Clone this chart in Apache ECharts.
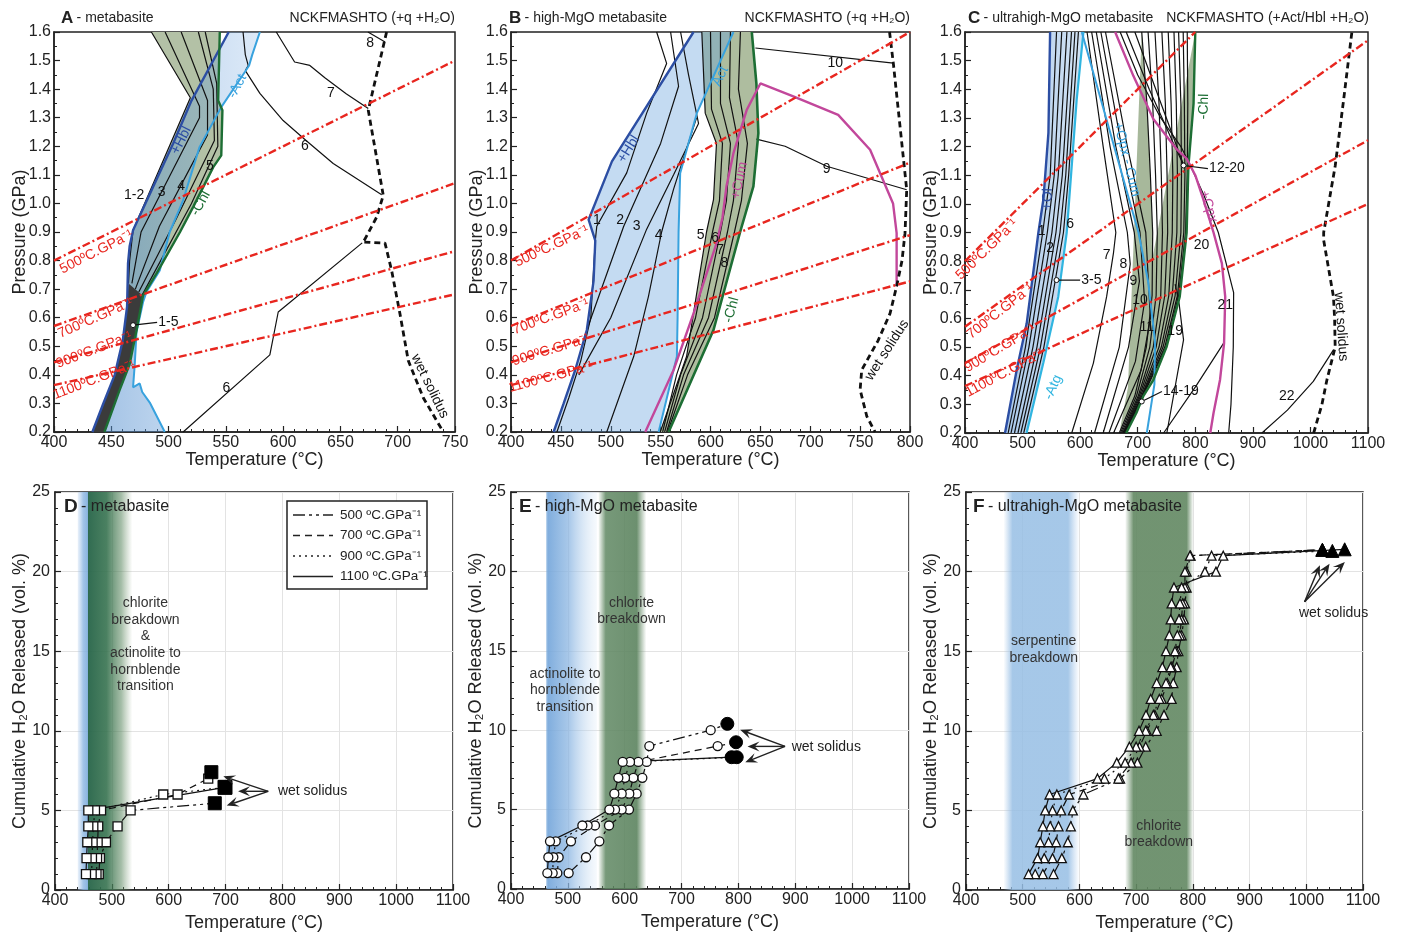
<!DOCTYPE html>
<html><head><meta charset="utf-8">
<script src="https://cdn.jsdelivr.net/npm/echarts@6/dist/echarts.min.js"></script>
<style>html,body{margin:0;padding:0;background:#fff}#c{width:1404px;height:935px}</style>
</head><body><div id="c"></div>
<script>
// ================= DATA =================
// Panel A (T °C, P GPa)
const A_geo500 = [[400,0.8],[750,1.5]];
const A_geo700 = [[400,0.571],[750,1.071]];
const A_geo900 = [[400,0.444],[750,0.833]];
const A_geo1100 = [[400,0.364],[750,0.682]];
const A_hbl = [[552.5,1.6],[520,1.36],[504,1.21],[469,0.906],[466,0.85],[464.6,0.79],[463.8,0.64],[460,0.52],[453,0.40],[442.8,0.297],[433.5,0.2]];
const A_act = [[579.7,1.6],[573,1.52],[570.3,1.483],[566.6,1.46],[546,1.337],[527,1.197],[512.7,1.011],[501,0.9],[492.3,0.765],[480.7,0.69],[477.7,0.654],[472,0.55],[470.5,0.438],[469,0.356],[474.8,0.37],[477,0.34],[483.6,0.303],[496.7,0.2]];
const A_chl = [[544.7,1.6],[543.3,1.36],[547,1.326],[546,1.168],[539,1.127],[521.4,0.987],[510,0.9],[489.4,0.754],[477.7,0.677],[472,0.555],[466,0.437],[457,0.344],[444,0.2]];
const A_chlLeft = [[485,1.6],[519,1.37],[469,0.906],[466,0.85],[464.6,0.79],[463.8,0.64],[460,0.52],[453,0.40],[442.8,0.297],[433.5,0.2]];
const A_band = [[465,0.72],[463.8,0.64],[460,0.52],[453,0.4],[442.8,0.297],[433.5,0.2],[444,0.2],[457,0.344],[466,0.437],[472,0.555],[477.7,0.677]];
const A_l12 = [[485,1.6],[519,1.37],[469,0.906],[466,0.8],[465,0.72]];
const A_l3 = [[497,1.6],[527,1.34],[527,1.3],[476,0.9],[468,0.72]];
const A_l4 = [[511,1.6],[534,1.36],[534,1.24],[492,0.92],[471,0.7]];
const A_l5a = [[526,1.6],[539,1.4],[540,1.22],[506,0.94],[474,0.69]];
const A_l5b = [[532,1.6],[542,1.42],[543,1.2],[520,1.0],[477,0.68]];
const A_actTop = [[565,1.6],[567,1.52],[569.5,1.483],[567,1.465]];
const A_l6up = [[567,1.465],[579.7,1.385],[600,1.29],[620,1.22],[643.7,1.14],[686,1.03]];
const A_l7 = [[594,1.6],[610,1.495],[623.3,1.483],[636.4,1.44],[655,1.384],[674.3,1.332]];
const A_l8 = [[674,1.6],[689,1.565]];
const A_l6low = [[512.7,0.2],[588.4,0.47],[595.7,0.62],[669,0.862]];
const A_wet = [[690.3,1.6],[674.3,1.326],[687.4,1.028],[681.6,0.952],[671.4,0.875],[669.3,0.865],[688.9,0.861],[694.7,0.765],[702,0.613],[709.2,0.45],[722.3,0.32],[739.8,0.2]];
const A_numbers = [[470,1.03,'1-2'],[494,1.04,'3'],[511,1.06,'4'],[536,1.13,'5'],[619,1.2,'6'],[641.7,1.385,'7'],[676,1.56,'8'],[550.5,0.355,'6']];

// Panel B
const B_geo500 = [[400,0.8],[800,1.6]];
const B_geo700 = [[400,0.571],[800,1.143]];
const B_geo900 = [[400,0.444],[800,0.889]];
const B_geo1100 = [[400,0.364],[800,0.727]];
const B_hbl = [[583,1.6],[501.2,1.147],[477.8,0.943],[484.5,0.87],[482.8,0.73],[476,0.557],[464.4,0.417],[452.8,0.3],[442.7,0.2]];
const B_act = [[623,1.6],[586.3,1.316],[569.6,1.106],[568,0.9],[567,0.6],[566.3,0.464],[563,0.417],[548,0.2]];
const B_chlLeft = [[591.3,1.6],[594.7,1.316],[606,1.21],[603,1.013],[596,0.9],[576,0.464],[549.6,0.2]];
const B_chl = [[558,0.2],[603,0.557],[629.7,0.9],[643,1.06],[648,1.246],[646,1.42],[641.4,1.6]];
const B_cum = [[534.6,0.2],[563,0.417],[583,0.615],[606,0.86],[612,0.95],[616,1.06],[623,1.176],[636.4,1.328],[650,1.42],[683,1.375],[728,1.31],[760,1.188],[783,1.0],[786.6,0.896],[786.6,0.71]];
const B_bandLine = [[484.5,0.87],[480,0.6],[470,0.45],[458,0.32],[446,0.2]];
const B_l1 = [[546,1.6],[556,1.49],[536,1.316],[516,1.107],[486,0.92],[484.5,0.87]];
const B_l2 = [[560,1.6],[568,1.41],[550,1.21],[513,0.92],[476,0.557]];
const B_l3 = [[570,1.6],[578,1.45],[588,1.28],[563,1.1],[536,0.91],[500,0.6],[468,0.4]];
const B_l4 = [[586,1.3],[563,1.05],[551,0.9],[537.7,0.673],[523,0.464],[496,0.2]];
const B_l5 = [[600,1.6],[601,1.33],[612,1.21],[609,1.01],[602,0.9],[585,0.6],[566,0.4],[552,0.2]];
const B_l6 = [[610,1.6],[610,1.35],[620,1.21],[616,1.01],[610,0.9],[592,0.6],[570,0.4],[554,0.2]];
const B_l7 = [[620,1.6],[619,1.37],[628,1.21],[623,1.01],[617,0.9],[598,0.6],[573,0.4],[556,0.2]];
const B_l8 = [[630,1.6],[628,1.4],[637,1.21],[631,1.01],[624,0.9],[604,0.6],[577,0.4],[557,0.2]];
const B_l9 = [[646,1.225],[674.8,1.2],[716.5,1.13],[796.7,1.048]];
const B_l10 = [[645,1.544],[783.3,1.491]];
const B_wet = [[779.5,1.6],[783.3,1.49],[790,1.27],[796.7,1.048],[795,0.896],[792,0.8],[786.6,0.71],[780,0.615],[768,0.52],[751.6,0.417],[750,0.348],[756.7,0.255],[765,0.2]];
const B_numbers = [[486,0.943,'1'],[509.5,0.943,'2'],[526,0.92,'3'],[548,0.89,'4'],[590,0.89,'5'],[604.7,0.88,'6'],[609.7,0.836,'7'],[614,0.79,'8'],[725,1.49,'10'],[716.5,1.12,'9']];

// Panel C
const C_geo500 = [[400,0.8],[800,1.6]];
const C_geo700 = [[400,0.571],[1100,1.571]];
const C_geo900 = [[400,0.444],[1100,1.222]];
const C_geo1100 = [[400,0.364],[1100,1.0]];
const C_ol = [[547.8,1.6],[544.9,1.248],[536.2,1.016],[527.5,0.9],[507.2,0.583],[489.8,0.42],[469.5,0.2]];
const C_atg = [[605.7,1.6],[594,1.364],[585.4,1.132],[576.7,0.9],[562,0.676],[536,0.444],[507,0.2]];
const C_b1 = [[559,1.6],[548,1.1],[535,0.9],[505,0.5],[475,0.2]];
const C_b2 = [[568,1.6],[555,1.1],[543,0.9],[511,0.5],[480,0.2]];
const C_b3 = [[577,1.6],[562,1.1],[551,0.9],[518,0.5],[486,0.2]];
const C_b4 = [[585,1.6],[569,1.1],[558,0.9],[525,0.5],[492,0.2]];
const C_b5 = [[591,1.6],[575,1.1],[565,0.9],[531,0.5],[497,0.2]];
const C_b6 = [[597,1.6],[580,1.1],[571,0.9],[537,0.5],[502,0.2]];
const C_opx = [[602.8,1.6],[701.3,0.9],[718,0.73],[730,0.52],[729,0.37],[715.8,0.2]];
const C_cpx = [[660.8,1.6],[692.6,1.446],[727.4,1.295],[768,1.19],[785,1.158],[800,1.1],[814,1.016],[831.7,0.9],[846.2,0.792],[852,0.676],[850,0.513],[843,0.386],[831.7,0.27],[826,0.2]];
const C_l20 = [[669.5,1.6],[700,1.45],[740,1.3],[775,1.2],[790,1.14],[815,1.03],[840,0.9],[866.6,0.69],[866,0.5],[862,0.3],[858,0.2]];
const C_c1 = [[680,1.6],[720,1.4],[760,1.22],[780,1.134]];
const C_c2 = [[695,1.6],[735,1.38],[768,1.2],[780,1.134]];
const C_chlLeft = [[707,1.6],[716,1.35],[722,1.1],[726,0.9],[725,0.68],[715,0.5],[695,0.33],[668,0.2]];
const C_chl = [[680,0.2],[697.6,0.27],[710,0.33],[727,0.385],[750,0.5],[773,0.676],[785,0.9],[788,1.13],[797,1.35],[800,1.6]];
const C_g1 = [[718,1.6],[726,1.35],[731,1.1],[734,0.9],[732,0.68],[721,0.5],[698,0.33],[670,0.2]];
const C_g2 = [[730,1.6],[737,1.35],[741,1.1],[743,0.9],[740,0.68],[727,0.5],[701,0.33],[672,0.2]];
const C_g3 = [[742,1.6],[748,1.35],[751,1.1],[752,0.9],[747,0.68],[732,0.5],[703,0.33],[674,0.2]];
const C_g4 = [[753,1.6],[758,1.35],[761,1.1],[760,0.9],[754,0.68],[737,0.5],[705,0.33],[675,0.2]];
const C_g5 = [[763,1.6],[767,1.35],[769,1.1],[768,0.9],[760,0.68],[741,0.5],[707,0.33],[676,0.2]];
const C_g6 = [[771,1.6],[775,1.35],[776,1.1],[775,0.9],[765,0.68],[744,0.5],[708,0.33],[677,0.2]];
const C_g7 = [[779,1.6],[781,1.35],[782,1.1],[780,0.9],[769,0.68],[747,0.5],[709,0.33],[678,0.2]];
const C_g8 = [[786,1.6],[787,1.35],[786,1.1],[783,0.9],[771,0.68],[749,0.5],[709.5,0.33],[679,0.2]];
const C_l7 = [[612,1.6],[640,1.2],[662,0.9],[658,0.83],[646,0.676],[623,0.444],[585.4,0.2]];
const C_l8 = [[620,1.6],[652,1.2],[682,0.9],[687,0.79],[668,0.5],[625,0.2]];
const C_l9 = [[628,1.6],[662,1.2],[694,0.9],[703,0.73],[684,0.5],[640,0.2]];
const C_l10 = [[636,1.6],[672,1.2],[704,0.9],[712,0.66],[696,0.45],[650,0.2]];
const C_l11 = [[644,1.6],[682,1.2],[714,0.9],[722,0.6],[706,0.42],[658,0.2]];
const C_l19 = [[750.6,0.2],[779.6,0.525],[772,0.65],[765,0.72]];
const C_l21 = [[745,0.2],[800,0.36],[849,0.513]];
const C_l22 = [[915.7,0.2],[960,0.28],[1005,0.38],[1040,0.49]];
const C_wet = [[1005.6,0.2],[1020,0.3],[1028.7,0.386],[1043,0.5],[1042,0.6],[1040,0.676],[1023,0.873],[1023,0.9],[1043,1.132],[1057.7,1.364],[1072,1.6]];
const C_numbers = [[533,0.906,'1'],[547.8,0.845,'2'],[582.5,0.93,'6'],[646,0.82,'7'],[675,0.79,'8'],[692.6,0.73,'9'],[704,0.665,'10'],[715.8,0.57,'11'],[765,0.554,'19'],[811,0.856,'20'],[852,0.647,'21'],[959,0.33,'22']];

// Panels D–F: cumulative H2O released (vol.%) vs T, per geotherm
const D_500 = [[477,1],[479,2],[489.6,3],[510,4],[533,5],[681,5.45]];
const D_700 = [[473,1],[474,2],[475,3],[476,4],[481,5],[615.6,6],[669.5,7],[675,7.4]];
const D_900 = [[464.5,1],[465,2],[466.2,3],[467.4,4],[470.3,5],[590.4,6],[699,6.45]];
const D_1100 = [[454.5,1],[455.5,2],[456.8,3],[458.6,4],[458.6,5],[699,6.45]];

const E_500 = [[501.4,1],[531.9,2],[555.4,3],[572.4,4],[607.5,5],[621,6],[631,7],[638.6,8],[643.3,9],[751.2,10],[780.5,10.4]];
const E_700 = [[481.5,1],[483.8,2],[505.5,3],[547.7,4],[594.7,5],[608.1,6],[615.2,7],[624,8],[763.5,9],[795.8,9.24]];
const E_900 = [[473.3,1],[474.5,2],[478.6,3],[534.8,4],[583,5],[594.7,6],[600.5,7],[609.3,8],[797,8.3]];
const E_1100 = [[463.9,1],[465.7,2],[468.6,3],[525.5,4],[573,5],[581.8,6],[588.8,7],[596.4,8],[788,8.3]];

const F_500 = [[554.3,1],[569,2],[579.5,3],[584.8,4],[588.4,5],[607.1,6],[671.7,7],[702.2,8],[716.9,9],[736.2,10],[749.1,11],[762.6,12],[765.5,13],[771.4,14],[774.4,15],[780.2,16],[784.3,17],[786.1,18],[789,19],[789,20],[796,21],[1028.4,21.37]];
const F_700 = [[535.5,1],[552.6,2],[559,3],[563.1,4],[567.8,5],[581.9,6],[668.7,7],[691.1,8],[706,9],[719,10],[733,11],[745,12],[755,13],[763,14],[771,15],[777,16],[780,17],[782,18],[786,19],[786.1,20],[794.9,21],[1028.4,21.37]];
const F_900 = [[522,1],[537.9,2],[545.5,3],[548.5,4],[552.6,5],[560.2,6],[644.1,7],[680.5,8],[700,9],[716.9,10],[730.3,11],[740.9,12],[752.6,13],[760.9,14],[768.5,15],[772.6,16],[775.5,17],[777.3,18],[780.2,19],[821.3,20],[833,21],[1046,21.3]];
const F_1100 = [[510.3,1],[526.2,2],[530.8,3],[535.5,4],[539.6,5],[547.3,6],[631.8,7],[665.8,8],[688.1,9],[705.1,10],[717.4,11],[725.7,12],[736.2,13],[746.2,14],[752.6,15],[758.5,16],[760.9,17],[762.6,18],[766.7,19],[840.7,20],[853.6,21],[1067.7,21.4]];

// shaded reaction bands (T ranges)
const D_bandBlue = [440, 459];
const D_bandGreen = [458, 536];
const E_bandBlue = [462, 551];
const E_bandGreen = [554, 638];
const F_bandBlue = [466, 600];
const F_bandGreen = [681, 801];

// "wet solidus" pointer arrows [fromT, fromW, toT, toW]
const D_arrows = [[775,6.2,696,7.14],[775,6.2,722,6.2],[775,6.2,702,5.3]];
const E_arrows = [[882,8.98,803,10.03],[882,8.98,816,8.98],[882,8.98,812,7.98]];
const F_arrows = [[997,18.1,1024,20.4],[997,18.1,1041,20.5],[997,18.1,1068,20.6]];

// ================= RENDER =================
const FONT = '"Liberation Sans", Arial, Helvetica, sans-serif';
const RED = '#e8261f', DBLUE = '#2c4ea3', LBLUE = '#38a2de', GREEN = '#1d6e34', MAG = '#c2479b';
const series = [];
function addLine(g, data, color, width, type, z, smooth) {
  series.push({type:'line', xAxisIndex:g, yAxisIndex:g, data:data, symbol:'none', showSymbol:false,
    smooth: smooth || false, lineStyle:{color:color, width:width, type: type || 'solid'},
    silent:true, animation:false, z: z || 5, clip:true});
}
function addPoly(g, pts, fill, z) {
  series.push({type:'custom', xAxisIndex:g, yAxisIndex:g, data:[pts[0]], clip:true, silent:true, animation:false, z: z || 1,
    renderItem: function(p, api){ return {type:'polygon', shape:{points: pts.map(function(q){return api.coord(q);})}, style:{fill:fill}}; }});
}
function addBand(g, range, ymin, ymax, stops) {
  const pts = [[range[0],ymin],[range[1],ymin],[range[1],ymax],[range[0],ymax]];
  addPoly(g, pts, {type:'linear', x:0, y:0, x2:1, y2:0, global:false, colorStops: stops.map(function(s){return {offset:s[0], color:s[1]};})}, 0);
}
function addTexts(g, items, color, rot, size, align, weight, lh) {
  series.push({type:'custom', xAxisIndex:g, yAxisIndex:g, data: items.map(function(t){return [t[0],t[1]];}), clip:false, silent:true, animation:false, z:30,
    renderItem: function(p, api){
      const t = items[p.dataIndex]; const c = api.coord([t[0],t[1]]);
      return {type:'text', x:c[0], y:c[1], rotation:(rot||0)*Math.PI/180, z2:10,
        style:{text:t[2], fill:color||'#111', fontSize:size||14, fontFamily:FONT, fontWeight:weight||'normal',
          align:align||'center', verticalAlign:'middle', textAlign:align||'center', textVerticalAlign:'middle', lineHeight:lh||undefined}};
    }});
}
function addLeader(g, from, to) {
  addLine(g, [from, to], '#111', 1.2, 'solid', 9);
  series.push({type:'scatter', xAxisIndex:g, yAxisIndex:g, data:[from], symbol:'circle', symbolSize:5,
    itemStyle:{color:'#fff', borderColor:'#111', borderWidth:1, opacity:1}, silent:true, animation:false, z:10});
}
function addArrows(g, items) {
  series.push({type:'custom', xAxisIndex:g, yAxisIndex:g, data: items.map(function(a){return [a[0],a[1]];}), clip:false, silent:true, animation:false, z:25,
    renderItem: function(p, api){
      const a = items[p.dataIndex]; const s = api.coord([a[0],a[1]]), e = api.coord([a[2],a[3]]);
      const ang = Math.atan2(e[1]-s[1], e[0]-s[0]); const L = 12, W = 5;
      const ca = Math.cos(ang), sa = Math.sin(ang);
      const bx = e[0]-L*ca, by = e[1]-L*sa; const nx = -sa, ny = ca;
      const notch = [e[0]-0.6*L*ca, e[1]-0.6*L*sa];
      return {type:'group', children:[
        {type:'line', shape:{x1:s[0], y1:s[1], x2:notch[0], y2:notch[1]}, style:{stroke:'#222', lineWidth:1.4}},
        {type:'polygon', shape:{points:[e,[bx+nx*W, by+ny*W], notch, [bx-nx*W, by-ny*W]]}, style:{fill:'#222'}}]};
    }});
}
const L500 = [12,4,3,4,3,4], L700 = [7,5], L900 = [2,4];
function addRun(g, data, dash, sym, size, bigSize) {
  addLine(g, data, '#111', 1.2, dash, 6);
  series.push({type:'scatter', xAxisIndex:g, yAxisIndex:g, data:data.slice(0, data.length-1), symbol:sym, symbolSize:size,
    itemStyle:{color:'#fff', borderColor:'#111', borderWidth:1.3, opacity:1}, silent:true, animation:false, z:12});
  series.push({type:'scatter', xAxisIndex:g, yAxisIndex:g, data:[data[data.length-1]], symbol:sym, symbolSize:bigSize,
    itemStyle:{color:'#000', borderColor:'#000', borderWidth:1, opacity:1}, silent:true, animation:false, z:13});
}
function geo(g, arr) { addLine(g, arr, RED, 2.4, [8,3,2,3], 8); }

// ---- Panel A ----
addPoly(0, A_chlLeft.concat(A_chl.slice().reverse()), '#b3c1a6', 1);
addPoly(0, A_act.concat(A_hbl.slice().reverse()), {type:'linear', x:0,y:0,x2:1,y2:0, colorStops:[{offset:0,color:'rgba(80,140,205,0.55)'},{offset:1,color:'rgba(120,170,225,0.25)'}]}, 2);
addPoly(0, A_band, '#3b3b3b', 3);
[A_l12, A_l3, A_l4, A_l5a, A_l5b, A_actTop, A_l6up, A_l7, A_l8, A_l6low].forEach(function(l){ addLine(0, l, '#111', 1.2); });
addLine(0, A_hbl, DBLUE, 2.4, 'solid', 6);
addLine(0, A_act, LBLUE, 2, 'solid', 6);
addLine(0, A_chl, GREEN, 2.4, 'solid', 6);
addLine(0, A_wet, '#111', 2.8, [6,4], 7);
[A_geo500, A_geo700, A_geo900, A_geo1100].forEach(function(l){ geo(0, l); });
addTexts(0, A_numbers);
addLeader(0, [469,0.574], [490,0.584]);
addTexts(0, [[491,0.584,'1-5']], '#111', 0, 14, 'left');
addTexts(0, [[511,1.22,'+Hbl']], DBLUE, 63);
addTexts(0, [[560,1.41,'-Act']], LBLUE, 62);
addTexts(0, [[528,1.0,'-Chl']], GREEN, 61);
addTexts(0, [[728,0.36,'wet solidus']], '#111', -64);
addTexts(0, [[437,0.83,'500ºC.GPa⁻¹']], RED, 27);
addTexts(0, [[436,0.598,'700ºC.GPa⁻¹']], RED, 24);
addTexts(0, [[435,0.487,'900ºC.GPa⁻¹']], RED, 21);
addTexts(0, [[435,0.382,'1100ºC.GPa⁻¹']], RED, 21);

// ---- Panel B ----
addPoly(1, B_chlLeft.concat(B_chl), '#aebd9f', 1);
addPoly(1, B_act.concat(B_hbl.slice().reverse()), 'rgba(100,160,220,0.38)', 2);
[B_bandLine, B_l1, B_l2, B_l3, B_l4, B_l5, B_l6, B_l7, B_l8, B_l9, B_l10, B_chlLeft].forEach(function(l){ addLine(1, l, '#111', 1.2); });
addLine(1, B_hbl, DBLUE, 2.4, 'solid', 6);
addLine(1, B_act, LBLUE, 2, 'solid', 6);
addLine(1, B_chl, GREEN, 2.6, 'solid', 6);
addLine(1, B_cum, MAG, 2.4, 'solid', 6);
addLine(1, B_wet, '#111', 2.8, [6,4], 7);
[B_geo500, B_geo700, B_geo900, B_geo1100].forEach(function(l){ geo(1, l); });
addTexts(1, B_numbers);
addTexts(1, [[518,1.19,'+Hbl']], DBLUE, 58);
addTexts(1, [[610,1.445,'Act']], LBLUE, 64);
addTexts(1, [[629,1.08,'+Cum']], MAG, 78);
addTexts(1, [[621,0.627,'-Chl']], GREEN, 75);
addTexts(1, [[777,0.487,'wet solidus']], '#111', 57);
addTexts(1, [[441,0.85,'500ºC.GPa⁻¹']], RED, 25);
addTexts(1, [[440,0.603,'700ºC.GPa⁻¹']], RED, 20);
addTexts(1, [[440,0.487,'900ºC.GPa⁻¹']], RED, 17);
addTexts(1, [[440,0.392,'1100ºC.GPa⁻¹']], RED, 15);

// ---- Panel C ----
addPoly(2, C_atg.concat(C_ol.slice().reverse()), {type:'linear', x:0,y:0,x2:1,y2:0, colorStops:[{offset:0,color:'#a9c8ea'},{offset:1,color:'#d4e4f4'}]}, 1);
addPoly(2, C_chlLeft.concat(C_chl.slice().reverse()), '#a7b89b', 1);
[C_b1, C_b2, C_b3, C_b4, C_b5, C_b6, C_g1, C_g2, C_g3, C_g4, C_g5, C_g6, C_g7, C_g8, C_chlLeft, C_l7, C_l8, C_l9, C_l10, C_l11, C_l19, C_l21, C_l22, C_l20, C_c1, C_c2].forEach(function(l){ addLine(2, l, '#111', 1.2); });
addLine(2, C_ol, DBLUE, 2.4, 'solid', 6);
addLine(2, C_atg, '#30b5e0', 2.2, 'solid', 6);
addLine(2, C_opx, LBLUE, 2, 'solid', 6);
addLine(2, C_chl, GREEN, 2.4, 'solid', 6);
addLine(2, C_cpx, MAG, 2.4, 'solid', 6);
addLine(2, C_wet, '#111', 2.8, [6,4], 7);
[C_geo500, C_geo700, C_geo900, C_geo1100].forEach(function(l){ geo(2, l); });
addTexts(2, C_numbers);
addLeader(2, [559,0.734], [600,0.734]);
addTexts(2, [[602,0.734,'3-5']], '#111', 0, 14, 'left');
addLeader(2, [779.6,1.134], [822,1.123]);
addTexts(2, [[824,1.123,'12-20']], '#111', 0, 14, 'left');
addLeader(2, [707,0.31], [742,0.345]);
addTexts(2, [[744,0.345,'14-19']], '#111', 0, 14, 'left');
addTexts(2, [[543.7,1.016,'+Ol']], DBLUE, 88);
addTexts(2, [[553,0.36,'-Atg']], '#30b5e0', 66);
addTexts(2, [[681,1.155,'+Opx - Cum']], LBLUE, -76);
addTexts(2, [[815,1.34,'-Chl']], GREEN, 88);
addTexts(2, [[823,0.99,'+Cpx']], MAG, -72);
addTexts(2, [[1053,0.571,'wet solidus']], '#111', -86);
addTexts(2, [[438,0.84,'500ºC.GPa⁻¹']], RED, 44);
addTexts(2, [[461,0.624,'700ºC.GPa⁻¹']], RED, 38);
addTexts(2, [[461,0.496,'900ºC.GPa⁻¹']], RED, 31);
addTexts(2, [[469,0.409,'1100ºC.GPa⁻¹']], RED, 28);

// ---- Panel D ----
addBand(3, D_bandBlue, 0, 25, [[0,'rgba(170,200,235,0.25)'],[0.5,'rgba(140,182,226,0.8)'],[1,'rgba(120,168,218,0.9)']]);
addBand(3, D_bandGreen, 0, 25, [[0,'rgba(38,100,72,0.95)'],[0.42,'rgba(55,115,80,0.9)'],[0.75,'rgba(90,135,95,0.55)'],[1,'rgba(120,150,110,0)']]);
addRun(3, D_500, L500, 'rect', 9, 13);
addRun(3, D_700, L700, 'rect', 9, 13);
addRun(3, D_900, L900, 'rect', 9, 13);
addRun(3, D_1100, 'solid', 'rect', 9, 14);
addArrows(3, D_arrows);
addTexts(3, [[792,6.21,'wet solidus']], '#222', 0, 14, 'left');
addTexts(3, [[559,15.4,'chlorite\nbreakdown\n&\nactinolite to\nhornblende\ntransition']], '#333', 0, 14, 'center', 'normal', 16.7);

// ---- Panel E ----
addBand(4, E_bandBlue, 0, 25, [[0,'rgba(120,168,218,0.7)'],[0.04,'rgba(115,165,218,0.9)'],[0.45,'rgba(140,182,226,0.75)'],[1,'rgba(210,228,245,0.2)']]);
addBand(4, E_bandGreen, 0, 25, [[0,'rgba(100,140,100,0.05)'],[0.15,'rgba(95,135,98,0.85)'],[0.8,'rgba(92,132,95,0.9)'],[1,'rgba(110,145,110,0)']]);
addRun(4, E_500, L500, 'circle', 9, 13);
addRun(4, E_700, L700, 'circle', 9, 13);
addRun(4, E_900, L900, 'circle', 9, 13);
addRun(4, E_1100, 'solid', 'circle', 9, 13);
addArrows(4, E_arrows);
addTexts(4, [[893.6,8.92,'wet solidus']], '#222', 0, 14, 'left');
addTexts(4, [[612,17.5,'chlorite\nbreakdown']], '#333', 0, 14, 'center', 'normal', 16.7);
addTexts(4, [[495,12.5,'actinolite to\nhornblende\ntransition']], '#333', 0, 14, 'center', 'normal', 16.7);

// ---- Panel F ----
addBand(5, F_bandBlue, 0, 25, [[0,'rgba(160,195,230,0)'],[0.12,'rgba(150,190,228,0.85)'],[0.85,'rgba(150,190,228,0.85)'],[1,'rgba(170,200,235,0)']]);
addBand(5, F_bandGreen, 0, 25, [[0,'rgba(110,145,110,0.05)'],[0.12,'rgba(98,136,98,0.9)'],[0.9,'rgba(98,136,98,0.9)'],[1,'rgba(110,145,110,0)']]);
addRun(5, F_500, L500, 'triangle', 9, 13);
addRun(5, F_700, L700, 'triangle', 9, 13);
addRun(5, F_900, L900, 'triangle', 9, 13);
addRun(5, F_1100, 'solid', 'triangle', 9, 13);
addArrows(5, F_arrows);
addTexts(5, [[1048,17.4,'wet solidus']], '#222', 0, 14, 'center');
addTexts(5, [[537,15.1,'serpentine\nbreakdown']], '#333', 0, 14, 'center', 'normal', 16.7);
addTexts(5, [[740,3.5,'chlorite\nbreakdown']], '#333', 0, 14, 'center', 'normal', 16.7);

// ---- axes & grids ----
const grids = [
  {left:54, top:32, width:401, height:400},
  {left:511, top:32, width:399, height:400},
  {left:965, top:32, width:403, height:401},
  {left:55, top:492, width:398, height:398},
  {left:511, top:492, width:398, height:397},
  {left:966, top:492, width:397, height:398}
].map(function(g){ return Object.assign({show:true, borderColor:'#222', borderWidth:1.5, backgroundColor:'transparent', containLabel:false}, g); });

const TXT = {fontFamily:FONT, color:'#222'};
function xAx(g, max, interval, split) {
  return {type:'value', gridIndex:g, min:400, max:max, interval:interval,
    name:'Temperature (°C)', nameLocation:'middle', nameGap: g < 3 ? 19 : 24, nameMoveOverlap:false,
    nameTextStyle:Object.assign({fontSize:18}, TXT),
    axisLine:{onZero:false, lineStyle:{color:'#222', width:1.5}},
    axisTick:{inside:true, length:6, lineStyle:{color:'#222', width:1.2}},
    minorTick:{show:true, splitNumber:5, length:3, lineStyle:{color:'#222', width:1}},
    axisLabel:Object.assign({fontSize:16, margin:3, formatter:function(v){return String(Math.round(v));}}, TXT),
    splitLine:{show:split, lineStyle:{color:'#e3e3e3', width:1}}};
}
function yAxP(g) {
  return {type:'value', gridIndex:g, min:0.2, max:1.6, interval:0.1,
    name:'Pressure (GPa)', nameLocation:'middle', nameGap:25, nameRotate:90, nameMoveOverlap:false,
    nameTextStyle:Object.assign({fontSize:18}, TXT),
    axisLine:{onZero:false, lineStyle:{color:'#222', width:1.5}},
    axisTick:{inside:true, length:6, lineStyle:{color:'#222', width:1.2}},
    minorTick:{show:true, splitNumber:2, length:3, lineStyle:{color:'#222', width:1}},
    axisLabel:Object.assign({fontSize:16, margin:3, formatter:function(v){return v.toFixed(1);}}, TXT),
    splitLine:{show:false}};
}
function yAxW(g) {
  return {type:'value', gridIndex:g, min:0, max:25, interval:5,
    name:'Cumulative H₂O Released (vol. %)', nameLocation:'middle', nameGap:26, nameRotate:90, nameMoveOverlap:false,
    nameTextStyle:Object.assign({fontSize:18}, TXT),
    axisLine:{onZero:false, lineStyle:{color:'#222', width:1.5}},
    axisTick:{inside:true, length:6, lineStyle:{color:'#222', width:1.2}},
    minorTick:{show:true, splitNumber:5, length:3, lineStyle:{color:'#222', width:1}},
    axisLabel:Object.assign({fontSize:16, margin:5, formatter:function(v){return String(Math.round(v));}}, TXT),
    splitLine:{show:true, lineStyle:{color:'#e3e3e3', width:1}}};
}

function title(x, y, letter, rest, size) {
  return {type:'text', x:x, y:y, z:100, style:{text:'{b|'+letter+'} {n|'+rest+'}', verticalAlign:'middle', textVerticalAlign:'middle',
    rich:{b:{fontSize:size+3, fontWeight:'bold', fontFamily:FONT, fill:'#222', color:'#222'}, n:{fontSize:size, fontFamily:FONT, fill:'#222', color:'#222'}}}};
}
function rtext(x, y, t) {
  return {type:'text', x:x, y:y, z:100, style:{text:t, fontSize:14, fontFamily:FONT, fill:'#222', align:'right', textAlign:'right', verticalAlign:'middle', textVerticalAlign:'middle'}};
}
const legendRows = [['500 ºC.GPa⁻¹', L500], ['700 ºC.GPa⁻¹', L700], ['900 ºC.GPa⁻¹', L900], ['1100 ºC.GPa⁻¹', null]];
const graphic = [
  title(61, 18, 'A', '- metabasite', 14), rtext(455, 18, 'NCKFMASHTO (+q +H₂O)'),
  title(509, 18, 'B', '- high-MgO metabasite', 14), rtext(910, 18, 'NCKFMASHTO (+q +H₂O)'),
  title(968, 18, 'C', '- ultrahigh-MgO metabasite', 14), rtext(1369, 18, 'NCKFMASHTO (+Act/Hbl +H₂O)'),
  title(64, 507, 'D', '- metabasite', 16),
  title(519, 507, 'E', '- high-MgO metabasite', 16),
  title(973, 507, 'F', '- ultrahigh-MgO metabasite', 16),
  {type:'rect', z:100, shape:{x:287, y:501, width:140, height:88}, style:{fill:'#fff', stroke:'#222', lineWidth:1.5}}
];
legendRows.forEach(function(r, i){
  const y = 515 + i*20.5;
  graphic.push({type:'line', z:101, shape:{x1:293, y1:y, x2:333, y2:y}, style:{stroke:'#222', lineWidth:1.4, lineDash:r[1] || null}});
  graphic.push({type:'text', z:101, x:340, y:y, style:{text:r[0], fontSize:13.5, fontFamily:FONT, fill:'#222', verticalAlign:'middle', textVerticalAlign:'middle'}});
});

const chart = echarts.init(document.getElementById('c'), null, {renderer:'canvas'});
chart.setOption({
  animation:false,
  backgroundColor:'#fff',
  grid: grids,
  xAxis: [xAx(0,750,50,false), xAx(1,800,50,false), xAx(2,1100,100,false), xAx(3,1100,100,true), xAx(4,1100,100,true), xAx(5,1100,100,true)],
  yAxis: [yAxP(0), yAxP(1), yAxP(2), yAxW(3), yAxW(4), yAxW(5)],
  series: series,
  graphic: graphic
});
</script></body></html>
